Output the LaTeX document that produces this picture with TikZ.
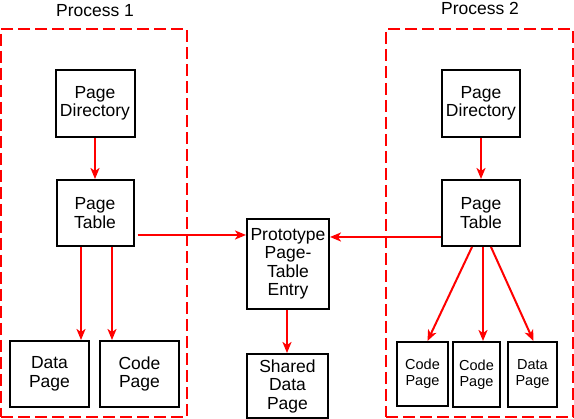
\documentclass[tikz,border=0pt]{standalone}
\usepackage{fontspec}
\setmainfont{Liberation Sans}
\usetikzlibrary{arrows.meta}
\begin{document}
\begin{tikzpicture}[x=1pt,y=-1pt,
  box/.style={draw=black,line width=2pt,align=center,inner sep=0pt,
    font=\fontsize{17.5}{18.5}\selectfont},
  sbox/.style={box,font=\fontsize{14.5}{16}\selectfont},
  proc/.style={draw=red,line width=2.2pt,dash pattern=on 12pt off 5pt,inner sep=0pt},
  title/.style={font=\fontsize{17.5}{18}\selectfont,inner sep=0pt},
  arr/.style={draw=red,line width=2pt,-{Stealth[length=11pt,width=9pt,inset=3pt]}}]
\useasboundingbox (0,0) rectangle (574,419);
% process regions
\node[proc,minimum width=186pt,minimum height=388pt] (p1) at (94,223) {};
\node[proc,minimum width=187pt,minimum height=388pt] (p2) at (479.5,223) {};
\node[title] (t1) at (95,11) {Process 1};
\node[title] (t2) at (480,8) {Process 2};
% process 1
\node[box,minimum width=79pt,minimum height=67pt] (pd1) at (95,103.5) {Page\\Directory};
\node[box,minimum width=77pt,minimum height=66pt] (pt1) at (95,213) {Page\\Table};
\node[box,minimum width=79pt,minimum height=66pt] (data1) at (49.5,374) {Data\\Page};
\node[box,minimum width=79pt,minimum height=66pt] (code1) at (139.5,374) {Code\\Page};
% shared
\node[box,minimum width=82pt,minimum height=90pt] (proto) at (288,264) {Prototype\\Page-\\Table\\Entry};
\node[box,minimum width=81pt,minimum height=64pt] (shared) at (287.5,386) {Shared\\Data\\Page};
% process 2
\node[box,minimum width=78pt,minimum height=67pt] (pd2) at (481,103.5) {Page\\Directory};
\node[box,minimum width=78pt,minimum height=66pt] (pt2) at (481,213) {Page\\Table};
\node[sbox,minimum width=51pt,minimum height=64pt] (c2a) at (422.5,374) {Code\\Page};
\node[sbox,minimum width=47pt,minimum height=65pt] (c2b) at (476.5,374.5) {Code\\Page};
\node[sbox,minimum width=49pt,minimum height=65pt] (d2) at (532.5,374.5) {Data\\Page};
% connectors
\draw[arr] (pd1) -- (pt1);
\draw[arr] ([xshift=-14pt]pt1.south) -- ([xshift=-14pt]pt1.south |- data1.north);
\draw[arr] ([xshift=17pt]pt1.south) -- ([xshift=17pt]pt1.south |- code1.north);
\draw[arr] ([xshift=3pt,yshift=-22pt]pt1.east) -- ([yshift=-22pt]pt1.east -| proto.west);
\draw[arr] ([yshift=-24pt]pt2.west) -- ([yshift=-24pt]pt2.west -| proto.east);
\draw[arr] ([xshift=-1pt]proto.south) -- ([xshift=-1pt]proto.south |- shared.north);
\draw[arr] (pd2) -- (pt2);
\draw[arr] ([xshift=-9pt]pt2.south) -- ([xshift=5pt]c2a.north);
\draw[arr] ([xshift=2pt]pt2.south) -- ([xshift=2pt]pt2.south |- c2b.north);
\draw[arr] ([xshift=10pt]pt2.south) -- ([xshift=1pt]d2.north);
\end{tikzpicture}
\end{document}
